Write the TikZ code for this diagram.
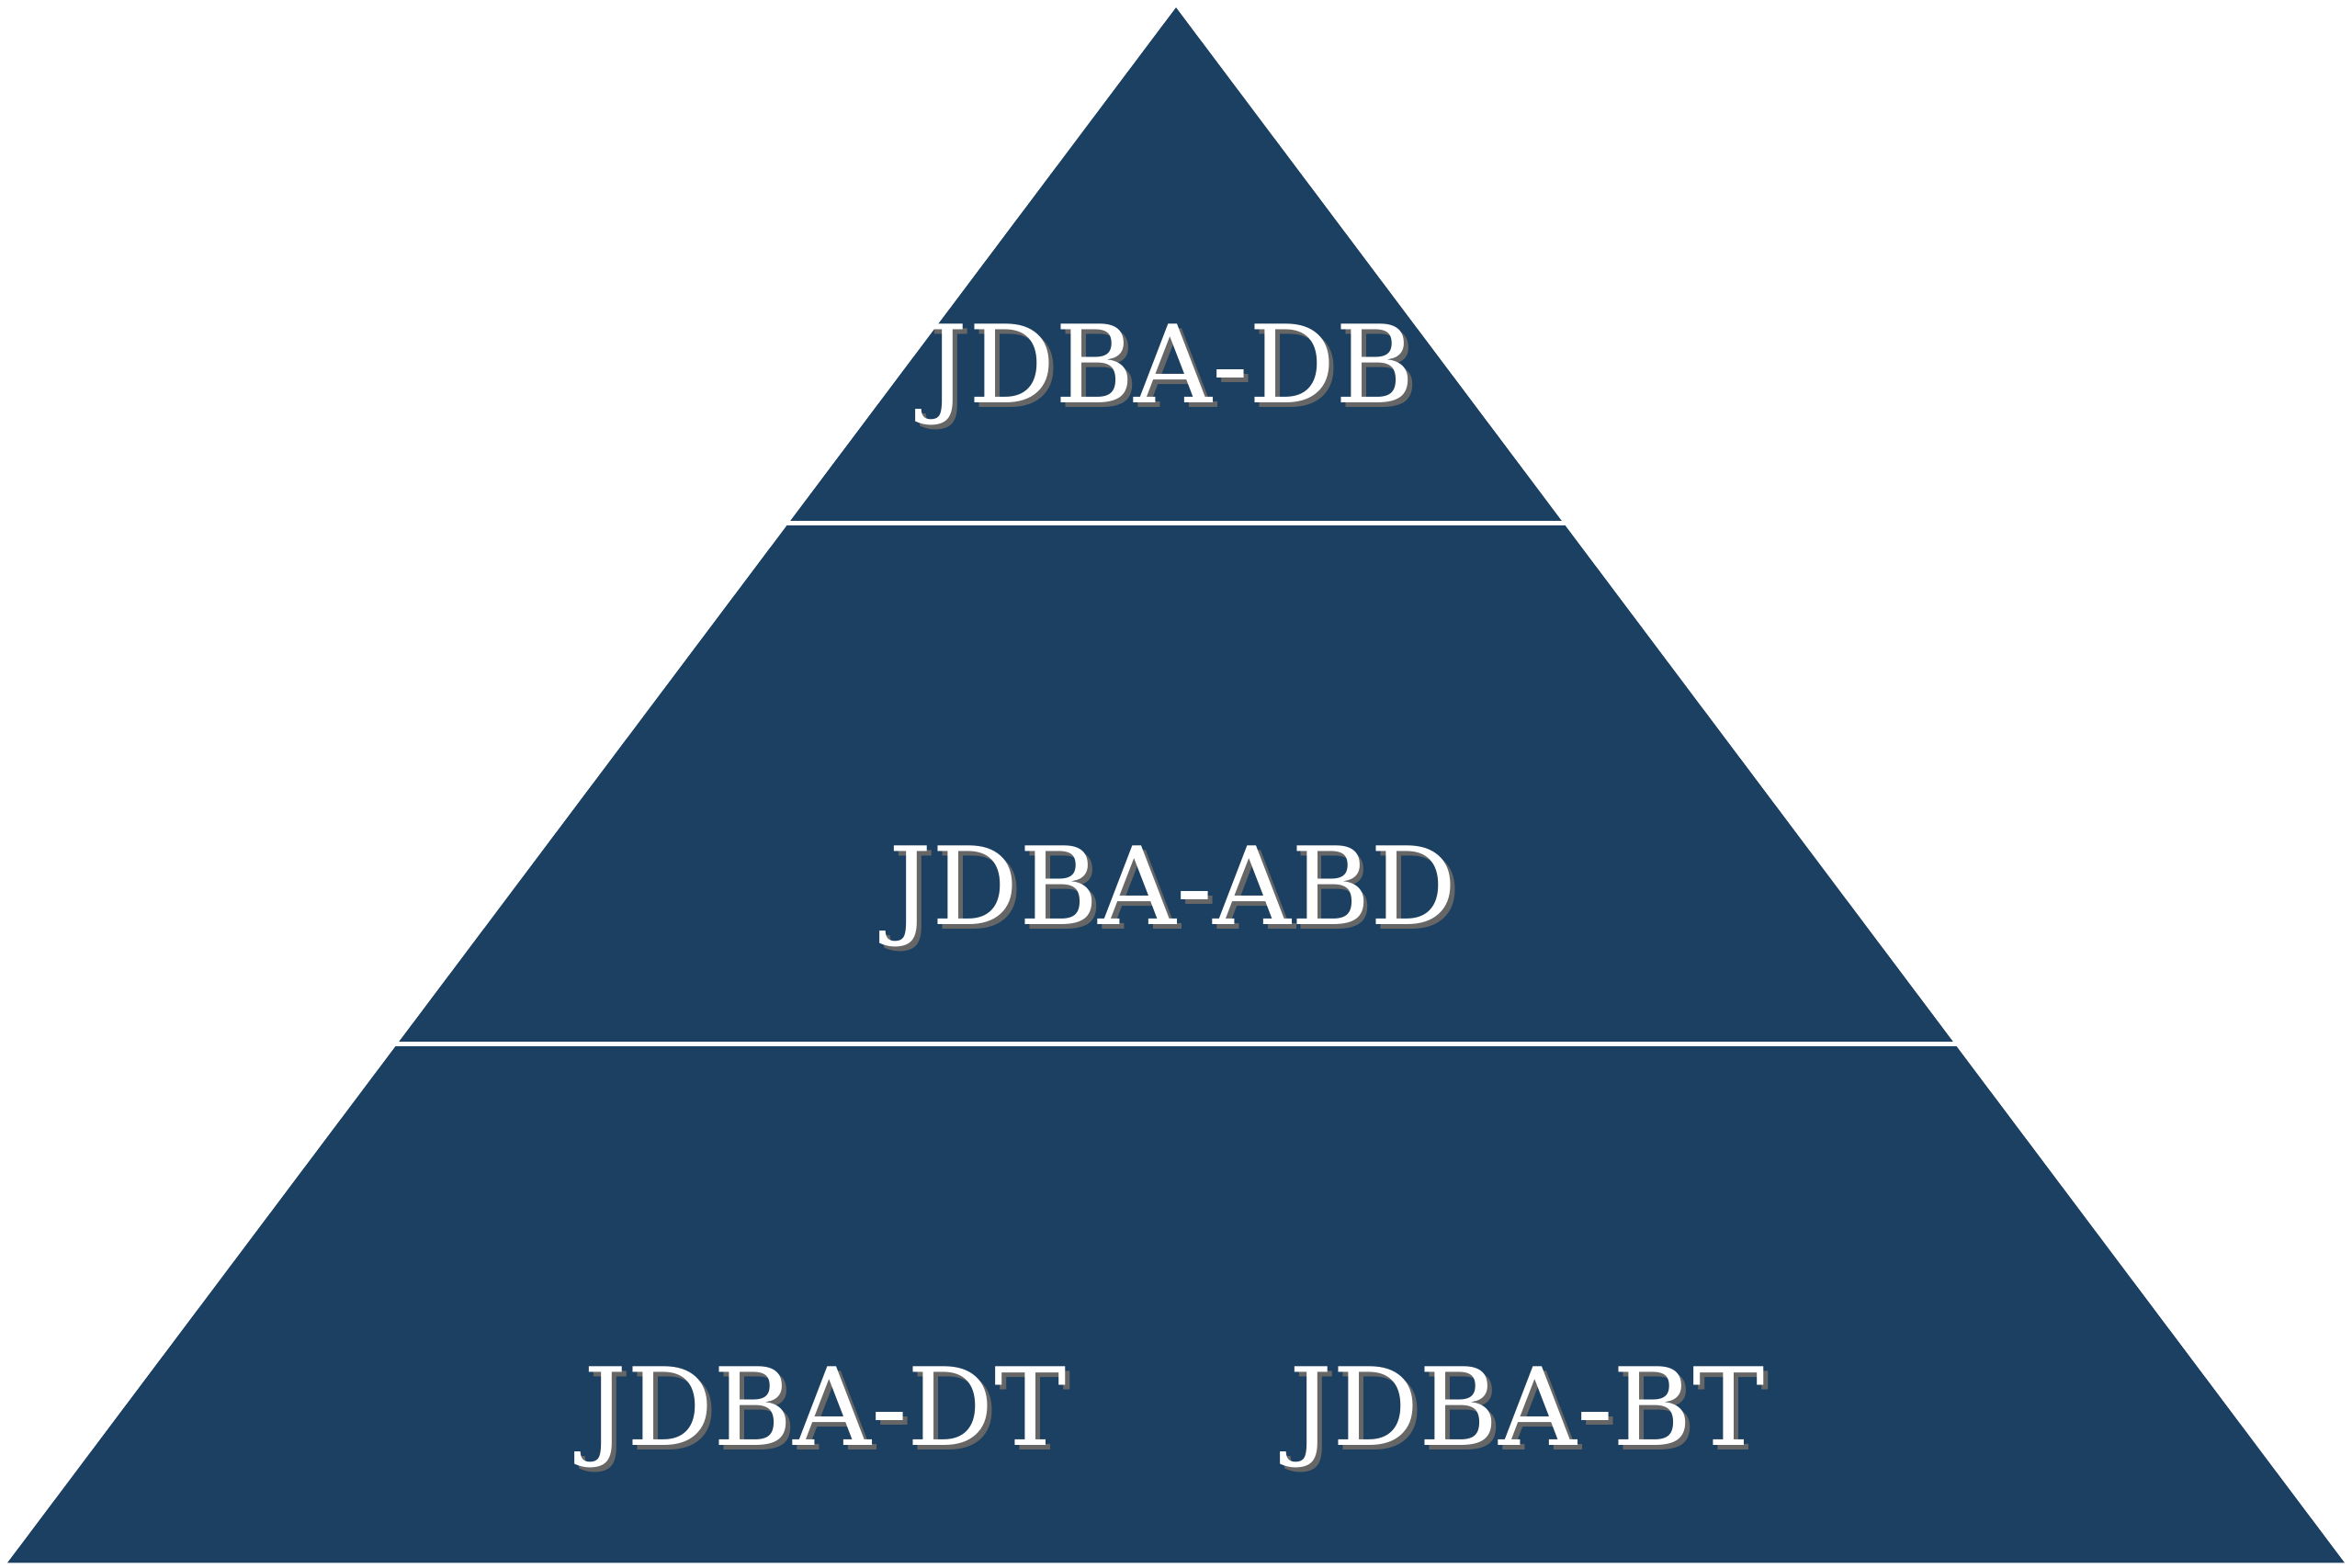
\documentclass[tikz,border=0pt]{standalone}
\usepackage{fontspec}
\setmainfont{DejaVu Serif}
\begin{document}
\begin{tikzpicture}[x=0.5pt,y=-0.5pt,
  lbl/.style={text=white,font=\fontsize{36}{40}\selectfont},
  shd/.style={text=black!60,font=\fontsize{36}{40}\selectfont}]
\useasboundingbox (0,0) rectangle (1568,1045);
\fill[white] (0,0) rectangle (1568,1045);
\fill[fill={rgb,255:red,28;green,64;blue,97}] (784,5) -- (1563,1042) -- (5,1042) -- cycle;
\coordinate (l1a) at (520,349); \coordinate (l1b) at (1046,349);
\coordinate (l2a) at (260,696); \coordinate (l2b) at (1306,696);
\draw[white,line width=1.5pt] (l1a) -- (l1b);
\draw[white,line width=1.5pt] (l2a) -- (l2b);
\foreach \n/\x/\y/\t in {db/780/250/JDBA-DB, abd/782/598/JDBA-ABD, dt/550/945/JDBA-DT, bt/1018/945/JDBA-BT}{
  \node[shd] at (\x+3,\y+3) {\t};
  \node[lbl] (\n) at (\x,\y) {\t};
}
\end{tikzpicture}
\end{document}
